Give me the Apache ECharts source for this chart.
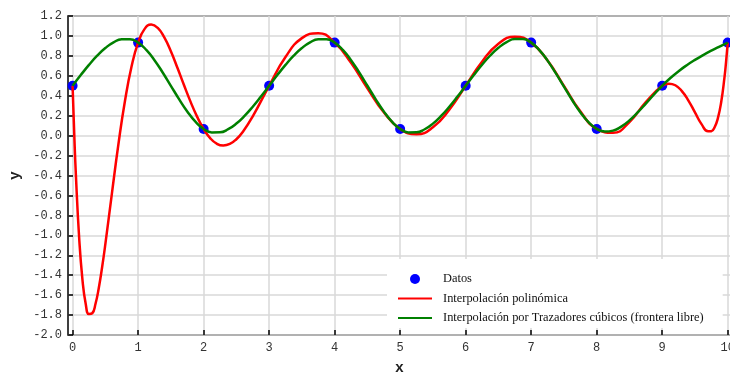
<!DOCTYPE html>
<html>
<head>
<meta charset="utf-8">
<script src="https://cdn.jsdelivr.net/npm/echarts@6/dist/echarts.min.js"></script>
<style>
  html, body { margin: 0; padding: 0; background: #fff; }
  #chart { width: 730px; height: 374px; }
</style>
</head>
<body>
<div id="chart"></div>
<script>
// Nodes of the data set
const pointX = [0, 1, 2, 3, 4, 5, 6, 7, 8, 9, 10];
const pointY = [0.5, 0.933, 0.067, 0.5, 0.933, 0.067, 0.5, 0.933, 0.067, 0.5, 0.933];

// Degree-10 interpolating polynomial, sampled
const polyX = [0, 0.025, 0.05, 0.1, 0.15, 0.2, 0.25, 0.3, 0.35, 0.4,
  0.45, 0.5, 0.6, 0.7, 0.8, 0.9, 1, 1.1, 1.2, 1.3,
  1.4, 1.5, 1.6, 1.7, 1.8, 1.9, 2, 2.1, 2.2, 2.3,
  2.4, 2.5, 2.6, 2.75, 3, 3.25, 3.5, 3.75, 4, 4.25,
  4.5, 4.75, 5, 5.25, 5.5, 5.75, 6, 6.25, 6.5, 6.75,
  7, 7.25, 7.5, 7.75, 8, 8.25, 8.5, 8.75, 9, 9.1,
  9.2, 9.3, 9.4, 9.5, 9.6, 9.7, 9.75, 9.8, 9.85, 9.9,
  9.95, 9.975, 10];
const polyY = [0.5, 0.020, -0.389, -1.022, -1.441, -1.686, -1.790, -1.782, -1.687, -1.528,
  -1.323, -1.089, -0.581, -0.084, 0.350, 0.693, 0.933, 1.071, 1.115, 1.081,
  0.985, 0.846, 0.681, 0.508, 0.341, 0.191, 0.067, -0.025, -0.081, -0.100,
  -0.084, -0.036, 0.039, 0.193, 0.5, 0.788, 0.978, 1.027, 0.933, 0.730,
  0.475, 0.234, 0.067, 0.013, 0.084, 0.261, 0.5, 0.741, 0.922, 0.993,
  0.933, 0.753, 0.499, 0.244, 0.067, 0.028, 0.137, 0.337, 0.5, 0.521,
  0.505, 0.447, 0.352, 0.233, 0.115, 0.043, 0.044, 0.084, 0.176, 0.335,
  0.581, 0.742, 0.933];

// Natural cubic spline, sampled every 1/8
const splineX = [0, 0.125, 0.25, 0.375, 0.5, 0.625, 0.75, 0.875,
  1, 1.125, 1.25, 1.375, 1.5, 1.625, 1.75, 1.875,
  2, 2.125, 2.25, 2.375, 2.5, 2.625, 2.75, 2.875,
  3, 3.125, 3.25, 3.375, 3.5, 3.625, 3.75, 3.875,
  4, 4.125, 4.25, 4.375, 4.5, 4.625, 4.75, 4.875,
  5, 5.125, 5.25, 5.375, 5.5, 5.625, 5.75, 5.875,
  6, 6.125, 6.25, 6.375, 6.5, 6.625, 6.75, 6.875,
  7, 7.125, 7.25, 7.375, 7.5, 7.625, 7.75, 7.875,
  8, 8.125, 8.25, 8.375, 8.5, 8.625, 8.75, 8.875,
  9, 9.125, 9.25, 9.375, 9.5, 9.625, 9.75, 9.875, 10];
const splineY = [0.5, 0.6074, 0.7097, 0.8019, 0.8789, 0.9356, 0.9668, 0.9677,
  0.9330, 0.8603, 0.7571, 0.6336, 0.5000, 0.3664, 0.2429, 0.1397,
  0.0670, 0.0323, 0.0332, 0.0645, 0.1211, 0.1981, 0.2903, 0.3926,
  0.5, 0.6074, 0.7097, 0.8019, 0.8788, 0.9355, 0.9668, 0.9677,
  0.9330, 0.8603, 0.7572, 0.6338, 0.5002, 0.3665, 0.2431, 0.1398,
  0.0670, 0.0322, 0.0328, 0.0640, 0.1205, 0.1974, 0.2897, 0.3922,
  0.5, 0.6080, 0.7110, 0.8038, 0.8812, 0.9380, 0.9691, 0.9691,
  0.9330, 0.8582, 0.7525, 0.6268, 0.4915, 0.3572, 0.2347, 0.1344,
  0.0670, 0.0402, 0.0502, 0.0900, 0.1530, 0.2322, 0.3210, 0.4126,
  0.5, 0.5779, 0.6463, 0.7066, 0.7600, 0.8080, 0.8520, 0.8932, 0.9330];

// Tick labels
const xTicks = [0, 1, 2, 3, 4, 5, 6, 7, 8, 9, 10];

const names = ['Datos', 'Interpolación polinómica', 'Interpolación por Trazadores cúbicos (frontera libre)'];

const pairs = (xs, ys) => xs.map((x, i) => [x, ys[i]]);

const monoLabel = { fontFamily: 'Liberation Mono', fontSize: 12, color: '#333' };
const gridLine = { show: true, lineStyle: { color: '#d9d9d9', width: 1.5 } };

const chart = echarts.init(document.getElementById('chart'), null, { renderer: 'canvas' });
chart.setOption({
  animation: false,
  backgroundColor: '#fff',
  grid: {
    left: 68, top: 16, right: -1, bottom: 39,
    outerBoundsMode: 'none', containLabel: false,
    show: true, borderColor: '#000', borderWidth: 1.5, backgroundColor: 'transparent'
  },
  xAxis: {
    type: 'value', min: -0.07, max: 10.05,
    name: 'x', nameLocation: 'middle', nameGap: 25,
    nameTextStyle: { fontFamily: 'Liberation Sans', fontWeight: 'bold', fontSize: 15, color: '#222' },
    axisLine: { show: false, onZero: false },
    axisTick: { show: true, inside: true, length: 5, customValues: xTicks, lineStyle: { color: '#000', width: 1.5 } },
    axisLabel: Object.assign({ margin: 7, customValues: xTicks }, monoLabel),
    splitLine: gridLine
  },
  yAxis: {
    type: 'value', min: -2, max: 1.2, interval: 0.2,
    name: 'y', nameLocation: 'middle', nameGap: 45,
    nameTextStyle: { fontFamily: 'Liberation Sans', fontWeight: 'bold', fontSize: 15, color: '#222' },
    axisLine: { show: false, onZero: false },
    axisTick: { show: true, inside: true, length: 5, lineStyle: { color: '#000', width: 1.5 } },
    axisLabel: Object.assign({ margin: 6, formatter: v => v.toFixed(1) }, monoLabel),
    splitLine: gridLine
  },
  legend: {
    orient: 'vertical', left: 387, top: 259,
    backgroundColor: '#fff',
    padding: [14, 19, 4, 10],
    itemWidth: 34, itemHeight: 10, itemGap: 7.5,
    textStyle: { fontFamily: 'Liberation Serif', fontSize: 12.4, color: '#111', padding: [0, 0, 0, 6] },
    data: [
      { name: names[0] },
      { name: names[1], itemStyle: { opacity: 0 } },
      { name: names[2], itemStyle: { opacity: 0 } }
    ]
  },
  series: [
    {
      name: names[0], type: 'scatter', data: pairs(pointX, pointY),
      symbol: 'circle', symbolSize: 10, itemStyle: { color: '#0000ff', opacity: 1 }, z: 2
    },
    {
      name: names[1], type: 'line', data: pairs(polyX, polyY),
      smooth: 0.5, symbol: 'none', showSymbol: false,
      lineStyle: { color: '#ff0000', width: 2.5 }, itemStyle: { color: '#ff0000' }, z: 3
    },
    {
      name: names[2], type: 'line', data: pairs(splineX, splineY),
      smooth: 0.5, symbol: 'none', showSymbol: false,
      lineStyle: { color: '#008000', width: 2.5 }, itemStyle: { color: '#008000' }, z: 4
    }
  ]
});
</script>
</body>
</html>
